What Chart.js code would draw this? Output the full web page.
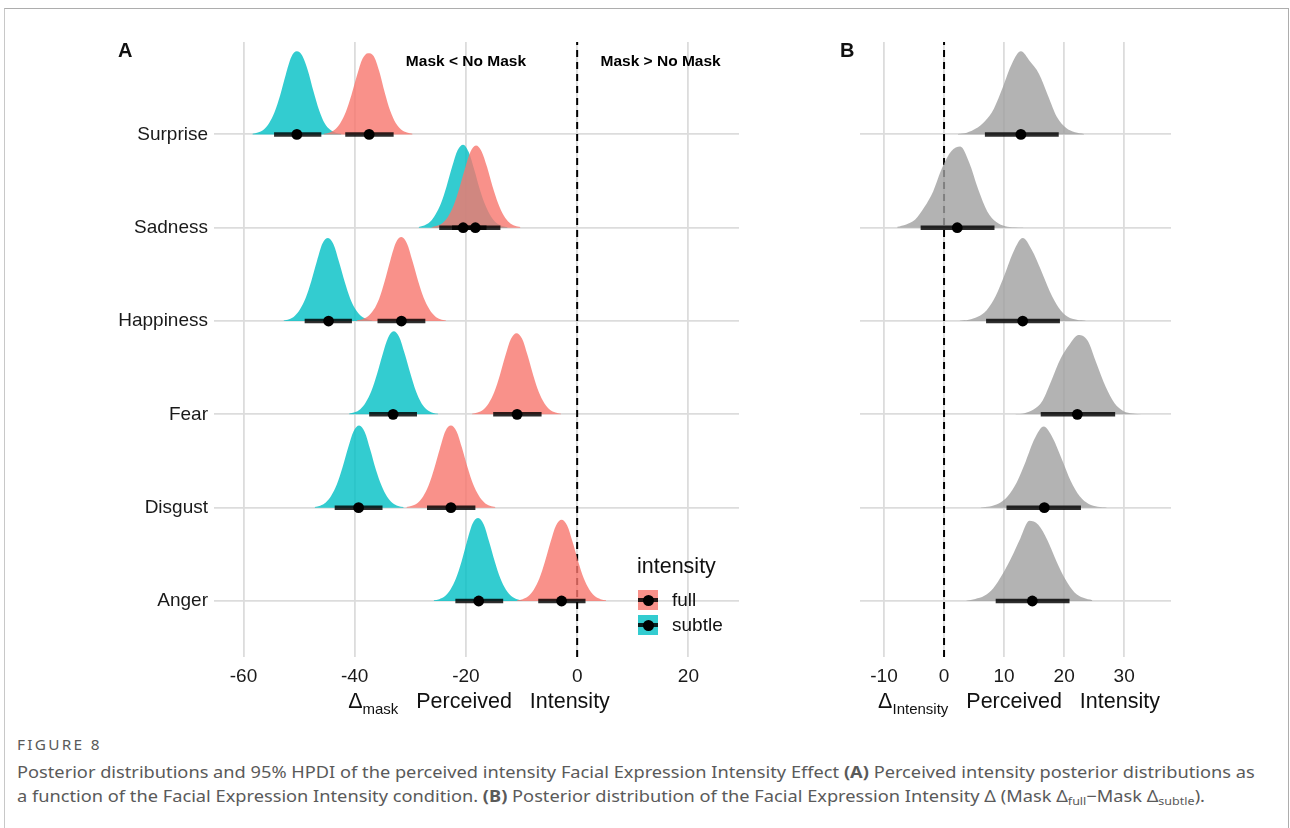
<!DOCTYPE html>
<html>
<head>
<meta charset="utf-8">
<script src="https://cdn.jsdelivr.net/npm/chart.js@4.4.1/dist/chart.umd.min.js"></script>
<style>
  html,body{margin:0;padding:0;background:#fff;}
  body{width:1290px;height:828px;overflow:hidden;position:relative;font-family:"Liberation Sans",Arial,sans-serif;color:#111;}
  #frame{position:absolute;left:4px;top:8px;width:1285px;height:840px;border-top:1.5px solid #adadad;border-left:1.5px solid #c8c8c8;border-right:1.5px solid #adadad;box-sizing:border-box;}
  canvas{position:absolute;top:0;}
  #cA{left:0;}
  #cB{left:790px;}
  .panel{position:absolute;font-weight:bold;font-size:20px;line-height:20px;}
  .atitle{position:absolute;top:688px;font-size:21.5px;line-height:26px;white-space:pre;transform:translateX(-50%);}
  .atitle sub{font-size:15px;vertical-align:-6px;line-height:0;}
  #legend{position:absolute;left:637px;top:553px;}
  #legend .ttl{position:absolute;left:0;top:0;font-size:21.5px;line-height:26px;white-space:nowrap;}
  .key{position:absolute;left:1px;width:20px;height:20px;}
  .key .ln{position:absolute;left:0;right:0;top:8px;height:4px;background:rgba(0,0,0,0.85);}
  .key .dt{position:absolute;left:4.5px;top:4.5px;width:11px;height:11px;border-radius:50%;background:#000;}
  .klab{position:absolute;left:35px;font-size:19px;line-height:22px;white-space:nowrap;}
  #cap{position:absolute;left:17px;top:735px;font-family:"Noto Sans","Open Sans",sans-serif;color:#5a5a5a;transform:scaleX(1.139);transform-origin:0 0;}
  #cap .fig{font-size:13.5px;letter-spacing:2px;line-height:20px;}
  #cap .line{font-size:16px;line-height:24px;white-space:nowrap;}
  #cap sub{font-size:11px;vertical-align:-3px;line-height:0;}
</style>
</head>
<body>
<div id="frame"></div>
<canvas id="cA" width="790" height="720"></canvas>
<canvas id="cB" width="420" height="720"></canvas>
<div class="panel" style="left:118px;top:40px;">A</div>
<div class="panel" style="left:840px;top:40px;">B</div>
<div class="atitle" style="left:479px;">Δ<sub>mask</sub>   Perceived   Intensity</div>
<div class="atitle" style="left:1019px;">Δ<sub>Intensity</sub>   Perceived   Intensity</div>
<div id="legend">
  <div class="ttl">intensity</div>
  <div class="key" style="top:37px;background:#F9918A;"><div class="ln"></div><div class="dt"></div></div>
  <div class="klab" style="top:36px;">full</div>
  <div class="key" style="top:62px;background:#33CCD0;"><div class="ln"></div><div class="dt"></div></div>
  <div class="klab" style="top:61px;">subtle</div>
</div>
<div id="cap">
  <div class="fig">FIGURE 8</div>
  <div class="line" style="margin-top:5px;">Posterior distributions and 95% HPDI of the perceived intensity Facial Expression Intensity Effect <b>(A)</b> Perceived intensity posterior distributions as</div>
  <div class="line">a function of the Facial Expression Intensity condition. <b>(B)</b> Posterior distribution of the Facial Expression Intensity Δ (Mask Δ<sub>full</sub>−Mask Δ<sub>subtle</sub>).</div>
</div>
<script>
// ---------------- DATA (index order = categories, bottom to top) ----------------
const categories = ['Anger', 'Disgust', 'Fear', 'Happiness', 'Sadness', 'Surprise'];
const series = ['full', 'subtle'];

const aTicks = [-60, -40, -20, 0, 20];
const bTicks = [-10, 0, 10, 20, 30];

// Panel A: point estimates and 95% HPDI
const aFullPoint  = [-2.8, -22.7, -10.8, -31.6, -18.3, -37.4];
const aFullLow    = [-7.0, -27.0, -15.1, -35.9, -22.5, -41.7];
const aFullHigh   = [ 1.5, -18.3,  -6.4, -27.3, -13.8, -33.0];
const aSubtlePoint = [-17.7, -39.3, -33.1, -44.7, -20.5, -50.4];
const aSubtleLow   = [-21.9, -43.6, -37.4, -49.0, -24.8, -54.5];
const aSubtleHigh  = [-13.3, -35.0, -28.8, -40.5, -16.3, -46.0];

// Panel A: density curves (first x, step 1 unit, heights in row units)
const aStep = 1;
const aFullFrom = [-10.8, -30.7, -18.9, -39.6, -26.2, -45.6];
const aFullDensity = [
  [0.007,0.02,0.05,0.12,0.24,0.42,0.63,0.81,0.87,0.81,0.63,0.42,0.24,0.12,0.05,0.02,0.007],
  [0.007,0.02,0.05,0.12,0.24,0.42,0.63,0.82,0.88,0.82,0.64,0.43,0.25,0.13,0.055,0.02,0.007],
  [0.007,0.02,0.05,0.12,0.24,0.42,0.63,0.81,0.87,0.81,0.63,0.42,0.24,0.12,0.05,0.02,0.007],
  [0.007,0.02,0.05,0.12,0.24,0.43,0.65,0.84,0.90,0.83,0.64,0.43,0.25,0.13,0.055,0.02,0.007],
  [0.006,0.02,0.05,0.12,0.24,0.42,0.63,0.81,0.88,0.82,0.65,0.44,0.26,0.13,0.055,0.02,0.007],
  [0.006,0.018,0.05,0.12,0.24,0.42,0.63,0.81,0.87,0.84,0.68,0.45,0.25,0.12,0.05,0.02,0.007]
];
const aSubtleFrom = [-25.8, -47.2, -41.0, -52.8, -28.5, -58.4];
const aSubtleDensity = [
  [0.007,0.02,0.05,0.12,0.24,0.42,0.64,0.83,0.89,0.82,0.63,0.42,0.24,0.12,0.05,0.018,0.006],
  [0.008,0.022,0.055,0.13,0.25,0.43,0.64,0.82,0.88,0.81,0.62,0.41,0.24,0.12,0.05,0.018,0.006],
  [0.008,0.022,0.055,0.13,0.25,0.43,0.64,0.82,0.89,0.83,0.65,0.44,0.25,0.12,0.05,0.018,0.006],
  [0.007,0.02,0.055,0.13,0.25,0.43,0.64,0.83,0.89,0.82,0.63,0.42,0.24,0.12,0.05,0.018,0.006],
  [0.008,0.024,0.06,0.14,0.26,0.44,0.65,0.83,0.89,0.81,0.62,0.41,0.24,0.12,0.05,0.018,0.006],
  [0.008,0.02,0.05,0.12,0.24,0.42,0.64,0.83,0.89,0.84,0.68,0.46,0.26,0.12,0.05,0.018,0.006]
];

// Panel B: difference full - subtle
const bPoint = [14.7, 16.7, 22.2, 13.1, 2.2, 12.8];
const bLow   = [ 8.6, 10.4, 16.1,  7.0, -3.9, 6.8];
const bHigh  = [20.9, 22.8, 28.5, 19.3,  8.4, 19.1];
const bStep = 1.5;
const bFrom = [3.7, 6.1, 11.9, 2.6, -7.8, 2.3];
const bDensity = [
  [0.004,0.022,0.056,0.138,0.284,0.464,0.671,0.86,0.817,0.654,0.43,0.232,0.095,0.034,0.009],
  [0.003,0.013,0.044,0.122,0.27,0.496,0.74,0.87,0.748,0.522,0.287,0.122,0.039,0.01,0.003],
  [0.003,0.013,0.051,0.145,0.366,0.595,0.748,0.85,0.791,0.544,0.298,0.119,0.034,0.009,0.002],
  [0.003,0.013,0.045,0.116,0.267,0.498,0.748,0.89,0.765,0.552,0.32,0.142,0.045,0.013,0.003],
  [0.009,0.035,0.087,0.218,0.392,0.644,0.818,0.87,0.696,0.409,0.174,0.061,0.017,0.004,0.001],
  [0.005,0.018,0.062,0.142,0.276,0.507,0.757,0.89,0.783,0.65,0.418,0.187,0.071,0.022,0.004]
];

// ---------------- STYLE / VIEW ----------------
const Y_MIN = -0.6, Y_MAX = 5.99;
const COL_FULL = 'rgba(248,118,109,0.8)';
const COL_SUBTLE = 'rgba(0,191,196,0.8)';
const COL_DIFF = 'rgba(160,160,160,0.8)';
const GRID = '#dcdcdc';
const TXT = '#1a1a1a';
Chart.defaults.font.family = '"Liberation Sans", Arial, sans-serif';
Chart.defaults.color = TXT;

function densitySet(from, step, heights, base, color, order) {
  return {
    type: 'line',
    data: heights.map((h, k) => ({ x: +(from + k * step).toFixed(3), y: base + h })),
    fill: { value: base },
    backgroundColor: color,
    borderColor: 'rgba(0,0,0,0)',
    borderWidth: 0,
    pointRadius: 0,
    cubicInterpolationMode: 'monotone',
    order: order
  };
}
function intervalSet(lo, hi, base) {
  return {
    type: 'line',
    data: [{ x: lo, y: base }, { x: hi, y: base }],
    borderColor: 'rgba(0,0,0,0.82)',
    borderWidth: 4.5,
    borderCapStyle: 'butt',
    pointRadius: 0,
    fill: false,
    order: 10
  };
}
function pointSet(vals) {
  return {
    type: 'line',
    showLine: false,
    data: vals.map((v, i) => ({ x: v, y: i })),
    pointRadius: 5.4,
    pointBackgroundColor: '#000',
    pointBorderWidth: 0,
    order: 5
  };
}
function zeroLine() {
  return {
    type: 'line',
    data: [{ x: 0, y: Y_MIN }, { x: 0, y: Y_MAX }],
    borderColor: '#000',
    borderWidth: 2,
    borderDash: [7, 5],
    pointRadius: 0,
    fill: false,
    order: 100
  };
}

const annotPlugin = {
  id: 'annot',
  afterDatasetsDraw(chart, args, opts) {
    if (!opts.items) return;
    const ctx = chart.ctx;
    ctx.save();
    ctx.font = 'bold 15.5px "Liberation Sans", Arial, sans-serif';
    ctx.fillStyle = '#000';
    ctx.textAlign = 'center';
    ctx.textBaseline = 'middle';
    opts.items.forEach(it => {
      ctx.fillText(it.text, chart.scales.x.getPixelForValue(it.x), chart.scales.y.getPixelForValue(it.y));
    });
    ctx.restore();
  }
};

function makeOptions(xMin, xMax, ticks, yWidth, padRight, showY, annotItems) {
  return {
    responsive: false,
    animation: false,
    events: [],
    layout: { padding: { left: 0, top: 42, right: padRight, bottom: 3 } },
    plugins: { legend: { display: false }, tooltip: { enabled: false }, annot: { items: annotItems } },
    scales: {
      x: {
        type: 'linear', min: xMin, max: xMax,
        afterBuildTicks: s => { s.ticks = ticks.map(v => ({ value: v })); },
        afterFit: s => { s.height = 60; },
        grid: { color: GRID, lineWidth: 1.8, drawTicks: false },
        border: { display: false },
        ticks: { padding: 8, font: { size: 19 }, color: TXT, callback: v => String(v) }
      },
      y: {
        type: 'linear', min: Y_MIN, max: Y_MAX,
        afterBuildTicks: s => { s.ticks = categories.map((c, i) => ({ value: i })); },
        afterFit: s => { s.width = yWidth; },
        grid: { color: GRID, lineWidth: 1.8, drawTicks: false },
        border: { display: false },
        ticks: { padding: 6, font: { size: 19 }, color: TXT, callback: v => showY ? categories[v] : '' }
      }
    }
  };
}

// Panel A datasets
const dsA = [zeroLine()];
categories.forEach((c, i) => {
  dsA.push(densitySet(aSubtleFrom[i], aStep, aSubtleDensity[i], i, COL_SUBTLE, 50));
  dsA.push(densitySet(aFullFrom[i], aStep, aFullDensity[i], i, COL_FULL, 40));
  dsA.push(intervalSet(aSubtleLow[i], aSubtleHigh[i], i));
  dsA.push(intervalSet(aFullLow[i], aFullHigh[i], i));
});
dsA.push(pointSet(aSubtlePoint));
dsA.push(pointSet(aFullPoint));

new Chart(document.getElementById('cA'), {
  type: 'line',
  data: { datasets: dsA },
  options: makeOptions(-65.3, 29.1, aTicks, 214, 51, true,
    [{ text: 'Mask < No Mask', x: -20, y: 5.78 }, { text: 'Mask > No Mask', x: 15, y: 5.78 }]),
  plugins: [annotPlugin]
});

// Panel B datasets
const dsB = [zeroLine()];
categories.forEach((c, i) => {
  dsB.push(densitySet(bFrom[i], bStep, bDensity[i], i, COL_DIFF, 40));
  dsB.push(intervalSet(bLow[i], bHigh[i], i));
});
dsB.push(pointSet(bPoint));

new Chart(document.getElementById('cB'), {
  type: 'line',
  data: { datasets: dsB },
  options: makeOptions(-14, 37.8, bTicks, 70, 39, false, null),
  plugins: [annotPlugin]
});
</script>
</body>
</html>
